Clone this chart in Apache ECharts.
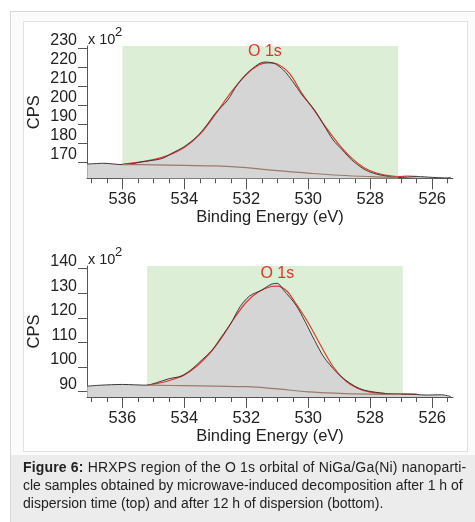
<!DOCTYPE html>
<html>
<head>
<meta charset="utf-8">
<script src="https://cdn.jsdelivr.net/npm/echarts@6/dist/echarts.min.js"></script>
<style>
body { margin: 0; width: 475px; height: 522px; position: relative; overflow: hidden; background: #fff; font-family: "Liberation Sans", Arial, sans-serif; }
#outer { position: absolute; left: 10px; top: 11px; width: 480px; height: 530px; border: 1px solid #d9d9d9; background: #fbfbfb; }
#box { position: absolute; left: 23px; top: 21px; width: 443px; height: 429px; border: 1.5px solid #e2e2e2; background: #fff; }
#capBg { position: absolute; left: 11px; top: 455px; width: 464px; height: 67px; background: #ececec; }
#caption { position: absolute; left: 23px; top: 458px; font-size: 14px; line-height: 18px; color: #222; white-space: nowrap; }
#caption .l1 { letter-spacing: 0.17px; }
#chart { position: absolute; left: 0; top: 0; width: 475px; height: 522px; }
</style>
</head>
<body>
<div id="outer"></div>
<div id="box"></div>
<div id="capBg"></div>
<div id="chart"></div>
<div id="caption"><span class="l1"><b>Figure 6:</b> HRXPS region of the O 1s orbital of NiGa/Ga(Ni) nanoparti-</span><br>cle samples obtained by microwave-induced decomposition after 1 h of<br>dispersion time (top) and after 12 h of dispersion (bottom).</div>
<script>
// ---------- data (counts in units of 10^2 CPS) ----------
var energyRange = [525.33, 537.14];
var energyLabels = [526, 528, 530, 532, 534, 536];
var energyTicks = [525.5, 526, 526.5, 527, 527.5, 528, 528.5, 529, 529.5, 530, 530.5, 531,
    531.5, 532, 532.5, 533, 533.5, 534, 534.5, 535, 535.5, 536, 536.5, 537];

var topRange = [161.4, 231];
var topCountLabels = [170, 180, 190, 200, 210, 220, 230];
var topWindow = [536.0, 527.1];

var bottomRange = [87.8, 141];
var bottomCountLabels = [90, 100, 110, 120, 130, 140];
var bottomWindow = [535.2, 526.95];

// 1 h dispersion
var topMeasured = [
    [537.13, 168.9], [536.6, 169.3], [536.0, 168.6], [535.6, 169.3], [535.4, 170.0],
    [535.0, 170.9], [534.7, 171.9], [534.4, 174.6], [534.0, 178.1], [533.6, 183.3],
    [533.3, 188.9], [533.0, 195.6], [532.6, 202.6], [532.3, 210.5], [532.0, 216.3],
    [531.6, 221.6], [531.4, 222.6], [531.1, 221.9], [530.8, 218.4], [530.5, 212.3],
    [530.2, 205.3], [529.8, 197.4], [529.5, 189.5], [529.2, 181.6], [528.9, 176.3],
    [528.6, 171.1], [528.2, 166.2], [527.9, 164.1], [527.5, 162.6], [527.1, 161.8],
    [526.5, 162.3], [526.0, 161.9], [525.6, 161.6], [525.4, 161.9]
];
var topFit = [
    [536.0, 168.9], [535.5, 169.8], [535.0, 171.2], [534.5, 173.6], [534.0, 177.6],
    [533.5, 184.5], [533.0, 195.0], [532.5, 206.5], [532.0, 216.0], [531.6, 221.0],
    [531.3, 222.2], [531.0, 221.6], [530.6, 216.5], [530.2, 206.0], [529.8, 197.0],
    [529.4, 187.5], [529.0, 179.0], [528.6, 172.0], [528.2, 167.0], [527.8, 164.2],
    [527.4, 162.8], [527.1, 162.3], [526.8, 162.6], [526.5, 162.4]
];
var topBackground = [
    [536.0, 168.6], [535.0, 168.5], [534.0, 168.2], [533.0, 167.9], [532.0, 167.0],
    [531.0, 165.4], [530.0, 164.1], [529.0, 163.0], [528.0, 162.3], [527.1, 161.9]
];

// 12 h dispersion
var bottomMeasured = [
    [537.13, 92.2], [536.7, 92.6], [536.0, 92.9], [535.2, 92.6], [534.9, 93.6],
    [534.5, 95.2], [534.1, 96.3], [533.8, 98.7], [533.5, 102.1], [533.1, 106.9],
    [532.8, 112.3], [532.5, 117.7], [532.2, 124.5], [531.9, 128.8], [531.5, 131.3],
    [531.2, 133.6], [531.0, 134.0], [530.8, 131.3], [530.4, 125.2], [530.1, 118.4],
    [529.8, 110.9], [529.5, 104.1], [529.1, 98.0], [528.8, 94.7], [528.5, 92.2],
    [528.2, 90.6], [527.7, 89.5], [527.3, 89.0], [526.8, 89.0], [526.2, 88.6],
    [525.7, 88.7], [525.4, 88.0]
];
var bottomFit = [
    [535.2, 92.7], [534.8, 93.5], [534.4, 94.8], [534.0, 96.8], [533.6, 100.3],
    [533.2, 105.2], [532.8, 111.8], [532.4, 119.6], [532.0, 126.3], [531.6, 130.6],
    [531.2, 132.7], [531.0, 132.9], [530.7, 131.0], [530.4, 125.8], [530.0, 118.0],
    [529.6, 108.8], [529.2, 100.2], [528.8, 94.4], [528.4, 91.3], [528.0, 89.8],
    [527.5, 89.2], [527.0, 89.0], [526.5, 89.0]
];
var bottomBackground = [
    [535.2, 92.6], [534.0, 92.4], [533.0, 92.2], [532.0, 92.0], [531.0, 91.1],
    [530.0, 89.9], [529.0, 89.3], [528.0, 89.0], [527.0, 88.9]
];

// ---------- layout ----------
var font = 'Liberation Sans';
var panels = [
    { top: 46.1, height: 132.2, range: topRange, labels: topCountLabels, window: topWindow,
      measured: topMeasured, fit: topFit, bg: topBackground },
    { top: 266.1, height: 130.9, range: bottomRange, labels: bottomCountLabels, window: bottomWindow,
      measured: bottomMeasured, fit: bottomFit, bg: bottomBackground }
];

var myChart = echarts.init(document.getElementById('chart'));

var grids = [], xAxes = [], yAxes = [], series = [], graphics = [];

panels.forEach(function (p, i) {
    grids.push({ left: 87, top: p.top, width: 366, height: p.height });

    // main x axis: line, labels, short ticks every 0.5 eV
    xAxes.push({
        type: 'value', gridIndex: i, position: 'bottom', inverse: true,
        min: energyRange[0], max: energyRange[1],
        name: 'Binding Energy (eV)', nameLocation: 'middle', nameGap: 30,
        nameTextStyle: { fontFamily: font, fontSize: 16.5, color: '#222' },
        axisLine: { show: true, lineStyle: { color: '#555', width: 1 } },
        axisTick: { show: true, length: 5, customValues: energyTicks, lineStyle: { color: '#555' } },
        axisLabel: { customValues: energyLabels, margin: 13, fontFamily: font, fontSize: 16.5, color: '#222',
            formatter: function (v) { return String(Math.round(v)); } },
        splitLine: { show: false }
    });
    // overlay axis for the long ticks at labelled energies
    xAxes.push({
        type: 'value', gridIndex: i, position: 'bottom', offset: 0, inverse: true,
        min: energyRange[0], max: energyRange[1],
        axisLine: { show: false },
        axisTick: { show: true, length: 11, customValues: energyLabels, lineStyle: { color: '#555' } },
        axisLabel: { show: false },
        splitLine: { show: false }
    });

    yAxes.push({
        type: 'value', gridIndex: i,
        min: p.range[0], max: p.range[1],
        name: 'CPS', nameLocation: 'middle', nameGap: 44, nameMoveOverlap: false,
        nameTextStyle: { fontFamily: font, fontSize: 16.5, color: '#222' },
        axisLine: { show: true, lineStyle: { color: '#555', width: 1 } },
        axisTick: { show: true, length: 9, customValues: p.labels, lineStyle: { color: '#555' } },
        axisLabel: { customValues: p.labels, margin: 10, verticalAlign: 'bottom', lineHeight: 14,
            fontFamily: font, fontSize: 16, color: '#222' },
        splitLine: { show: false }
    });

    var xi = i * 2;
    // green fitting window
    series.push({
        type: 'line', xAxisIndex: xi, yAxisIndex: i, data: [], z: 1, silent: true,
        markArea: {
            silent: true,
            itemStyle: { color: '#dcefd6' },
            data: [[{ xAxis: p.window[0], yAxis: p.range[1] }, { xAxis: p.window[1], yAxis: p.range[0] }]]
        }
    });
    // gray fill under the spectrum
    series.push({
        type: 'line', xAxisIndex: xi, yAxisIndex: i, data: p.measured, z: 2,
        showSymbol: false, smooth: 0.3, silent: true,
        lineStyle: { width: 0 },
        areaStyle: { color: '#d5d5d5', opacity: 1, origin: 'start' }
    });
    // fitted envelope
    series.push({
        type: 'line', xAxisIndex: xi, yAxisIndex: i, data: p.fit, z: 3,
        showSymbol: false, smooth: 0.3,
        lineStyle: { color: '#e0392e', width: 1.2 }
    });
    // measured spectrum
    series.push({
        type: 'line', xAxisIndex: xi, yAxisIndex: i, data: p.measured, z: 4,
        showSymbol: false, smooth: 0.3,
        lineStyle: { color: '#3a3a3a', width: 1 },
        markPoint: {
            symbol: 'circle', symbolSize: 0,
            label: { show: true, position: 'top', distance: 2, formatter: 'O 1s',
                fontFamily: font, fontSize: 16, color: '#e3342a' },
            data: [{ type: 'max', valueDim: 'y' }]
        }
    });
    // Shirley-type background
    series.push({
        type: 'line', xAxisIndex: xi, yAxisIndex: i, data: p.bg, z: 5,
        showSymbol: false, smooth: 0.4,
        lineStyle: { color: '#9c7a68', width: 1.2 }
    });

    // "x 10^2" multiplier
    graphics.push({
        type: 'text', left: 88, top: p.top - 14,
        style: { text: 'x 10', fontFamily: font, fontSize: 14.5, fill: '#222' }
    });
    graphics.push({
        type: 'text', left: 115, top: p.top - 20,
        style: { text: '2', fontFamily: font, fontSize: 13, fill: '#222' }
    });
});

var option = {
    backgroundColor: 'transparent',
    animation: false,
    grid: grids,
    xAxis: xAxes,
    yAxis: yAxes,
    series: series,
    graphic: graphics
};

myChart.setOption(option);
</script>
</body>
</html>
